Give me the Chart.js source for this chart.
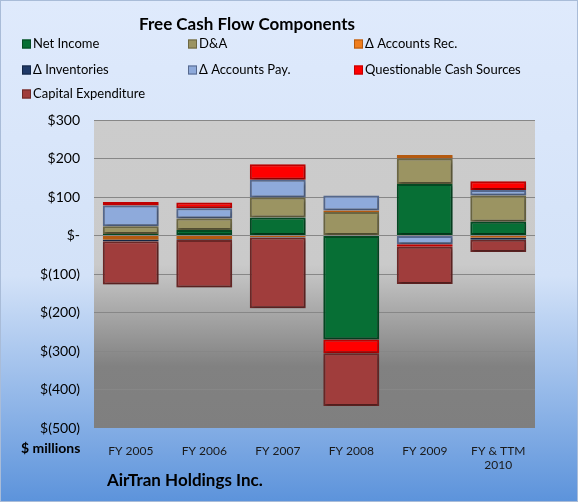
<!DOCTYPE html>
<html>
<head>
<meta charset="utf-8">
<script src="https://cdn.jsdelivr.net/npm/chart.js@4.4.1/dist/chart.umd.min.js"></script>
<style>
  html, body { margin: 0; padding: 0; background: #fff; }
  #wrap { width: 578px; height: 502px; position: relative; }
</style>
</head>
<body>
<div id="wrap"><canvas id="fcfChart" width="578" height="502"></canvas></div>
<script>
// categories and series ($ millions)
const years = [["FY 2005"], ["FY 2006"], ["FY 2007"], ["FY 2008"], ["FY 2009"], ["FY & TTM", "2010"]];
const netIncome = [4, 14, 47, -270, 134, 36];
const depreciation = [20, 30, 52, 61, 66, 68];
const accountsRec = [-11, -10, -4, 4, 9, -6];
const inventories = [-4, -2, -1, 0, 0, -5];
const accountsPay = [54, 27, 46, 39, -23, 14];
const questionable = [9, 15, 40, -36, -6, 23];
const capex = [-112, -123, -184, -137, -97, -32];
const yTicks = [300, 200, 100, 0, -100, -200, -300, -400, -500];

const FONT = "Lato, 'Open Sans', sans-serif";

function money(v) {
  if (v === 0) return "$-";
  if (v < 0) return "$(" + Math.abs(v) + ")";
  return "$" + v;
}

function series(label, data, fill, edge) {
  return {
    label: label,
    data: data,
    backgroundColor: fill,
    borderColor: edge,
    borderWidth: 2,
    borderSkipped: false,
  };
}

// background, plot area, shadows, titles and legend
const decor = {
  id: "decor",
  beforeDraw(chart) {
    const { ctx, chartArea: a, width, height } = chart;
    ctx.save();
    let g = ctx.createLinearGradient(0, 0, 0, height);
    g.addColorStop(0, "#dfeafc");
    g.addColorStop(0.55, "#d3e2f8");
    g.addColorStop(1, "#5c93db");
    ctx.fillStyle = g;
    ctx.fillRect(0, 0, width, height);
    ctx.strokeStyle = "#a9bcd8";
    ctx.lineWidth = 1;
    ctx.strokeRect(0.5, 0.5, width - 1, height - 1);

    g = ctx.createLinearGradient(0, a.top, 0, a.bottom);
    g.addColorStop(0, "#cccccc");
    g.addColorStop(0.47, "#cacaca");
    g.addColorStop(0.8, "#818181");
    g.addColorStop(1, "#7f7f7f");
    ctx.fillStyle = g;
    ctx.fillRect(a.left, a.top, a.right - a.left, a.bottom - a.top);
    ctx.restore();
  },
  beforeDatasetsDraw(chart) {
    const ctx = chart.ctx;
    ctx.save();
    ctx.shadowColor = "rgba(0,0,0,0.35)";
    ctx.shadowBlur = 3;
    ctx.shadowOffsetX = 1;
    ctx.shadowOffsetY = 2;
  },
  afterDatasetsDraw(chart) {
    chart.ctx.restore();
  },
  afterDraw(chart) {
    const ctx = chart.ctx;
    ctx.save();
    ctx.fillStyle = "#000";
    ctx.textBaseline = "middle";
    ctx.textAlign = "center";
    ctx.font = "bold 17px " + FONT;
    ctx.fillText("Free Cash Flow Components", 247, 25);

    ctx.textAlign = "left";
    ctx.font = "bold 17px " + FONT;
    ctx.fillText("AirTran Holdings Inc.", 107, 481);
    ctx.font = "bold 14px " + FONT;
    ctx.fillText("$ millions", 21, 448);

    // legend, three columns
    const cols = [22, 188, 354];
    const rows = [44, 70, 94];
    ctx.font = "13px " + FONT;
    chart.data.datasets.forEach((ds, i) => {
      const x = cols[i % 3];
      const y = rows[Math.floor(i / 3)];
      ctx.fillStyle = ds.backgroundColor;
      ctx.fillRect(x, y - 4.5, 9, 9);
      ctx.strokeStyle = ds.borderColor;
      ctx.lineWidth = 1;
      ctx.strokeRect(x + 0.5, y - 4, 8, 8);
      ctx.fillStyle = "#000";
      ctx.fillText(ds.label, x + 11, y);
    });
    ctx.restore();
  },
};

const ctx = document.getElementById("fcfChart").getContext("2d");
new Chart(ctx, {
  type: "bar",
  data: {
    labels: years,
    datasets: [
      series("Net Income", netIncome, "#076f35", "#044a23"),
      series("D&A", depreciation, "#9b9462", "#6c6743"),
      series("\u0394 Accounts Rec.", accountsRec, "#f07d1c", "#b45a10"),
      series("\u0394 Inventories", inventories, "#203a68", "#142645"),
      series("\u0394 Accounts Pay.", accountsPay, "#8eaadb", "#56698e"),
      series("Questionable Cash Sources", questionable, "#ff0000", "#c00000"),
      series("Capital Expenditure", capex, "#a03d3c", "#6c2827"),
    ],
  },
  options: {
    responsive: false,
    animation: false,
    layout: { padding: { top: 120, left: 0, right: 43, bottom: 0 } },
    plugins: {
      legend: { display: false },
      title: { display: false },
      tooltip: { enabled: false },
    },
    datasets: {
      bar: { categoryPercentage: 1, barPercentage: 0.76 },
    },
    scales: {
      x: {
        stacked: true,
        grid: { display: false },
        border: { display: false },
        ticks: {
          color: "#1a1a1a",
          font: { family: FONT, size: 12 },
          padding: 8,
          maxRotation: 0,
        },
        afterFit: (s) => { s.height = 74; },
      },
      y: {
        stacked: true,
        min: -500,
        max: 300,
        afterBuildTicks: (s) => { s.ticks = yTicks.map((v) => ({ value: v })); },
        grid: {
          color: (c) => (c.tick && c.tick.value === -500 ? "rgba(0,0,0,0)" : "#878787"),
          lineWidth: 1,
          drawTicks: false,
        },
        border: { display: false },
        ticks: {
          color: "#000",
          font: { family: FONT, size: 14 },
          padding: 14,
          callback: (v) => money(v),
        },
        afterFit: (s) => { s.width = 94; },
      },
    },
  },
  plugins: [decor],
});
</script>
</body>
</html>
